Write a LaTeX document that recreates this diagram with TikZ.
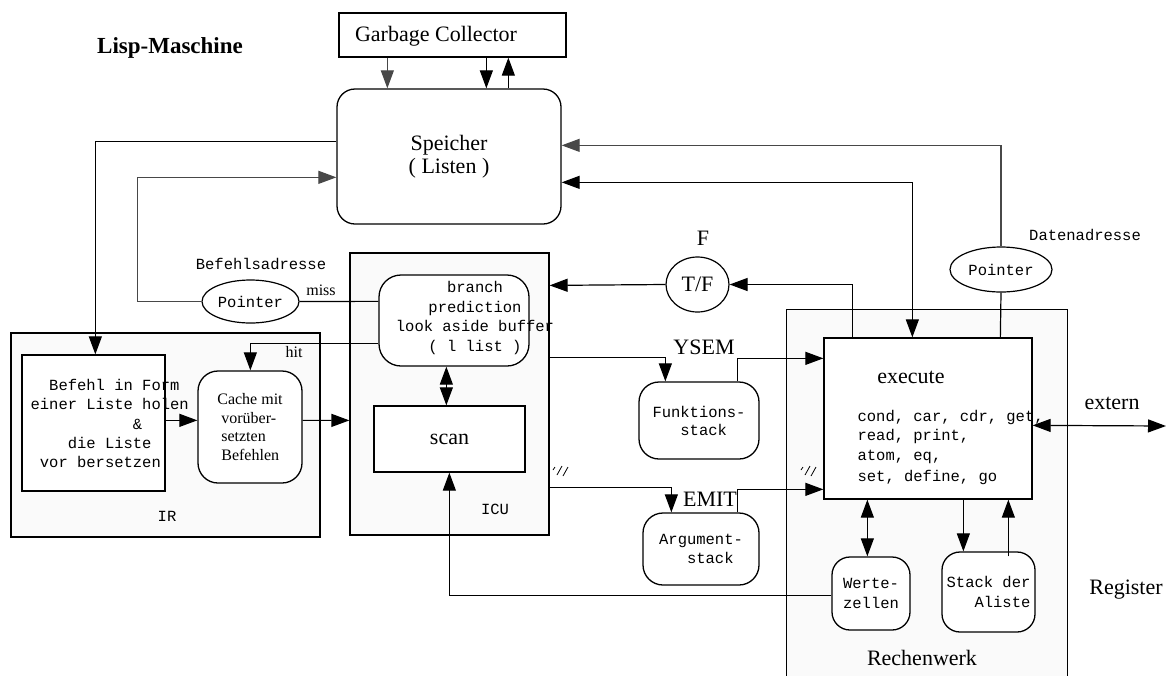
\documentclass[tikz,border=0pt]{standalone}
\usepackage{fontspec}
\setmainfont{Liberation Serif}
\setmonofont{Liberation Mono}
\usetikzlibrary{arrows.meta,shapes.geometric}

\definecolor{gcol}{RGB}{72,72,72}
\definecolor{unitfill}{RGB}{250,250,250}

\begin{document}
\begin{tikzpicture}[x=1pt,y=-1pt,
  line width=1.2pt,
  box/.style={draw, fill=white, inner sep=0pt, line width=1.3pt},
  rbox/.style={box, rounded corners=20pt},
  unit/.style={draw, fill=unitfill, inner sep=0pt, line width=1.2pt},
  pointer/.style={ellipse, draw, fill=white, inner sep=0pt, line width=1.2pt},
  mono/.style={font=\fontsize{15.5}{19.5}\selectfont\ttfamily},
  big/.style={font=\fontsize{22}{23}\selectfont},
  small/.style={font=\fontsize{16}{18.7}\selectfont},
  txt/.style={inner sep=0pt},
  arr/.style={-{Triangle[length=18pt,width=13pt]}},
  darr/.style={{Triangle[length=18pt,width=13pt]}-{Triangle[length=18pt,width=13pt]}},
  gline/.style={draw=gcol}]

\useasboundingbox[fill=white] (0,0) rectangle (1175,675);

% ---- title and garbage collector ----
\node[txt, font=\fontsize{23}{24}\selectfont\bfseries] (title) at (170,48) {Lisp-Maschine};
\node[box, minimum width=227pt, minimum height=44pt] (gc) at (452.5,35) {};
\node[txt, big] (gctext) at (436,36) {Garbage Collector};

% ---- main memory ----
\node[rbox, rounded corners=18pt, minimum width=224pt, minimum height=135pt,
      big, align=center] (speicher) at (449,156.5) {Speicher\\( Listen )};

% ---- functional units (light background) ----
\node[unit, minimum width=309pt, minimum height=204pt] (ir) at (165.5,435) {};
\node[unit, minimum width=199pt, minimum height=282pt] (icu) at (449.5,394) {};
\node[fill=unitfill, inner sep=0pt, minimum width=280pt, minimum height=372pt] (rw) at (927,496) {};
\draw[line width=1.2pt] (rw.south west) -- (rw.north west) -- (rw.north east) -- (rw.south east);

% ---- IR contents ----
\node[box, minimum width=143pt, minimum height=136pt] (befehl) at (93.5,423) {};
\node[txt, mono, font=\fontsize{15.5}{19.25}\selectfont\ttfamily, align=left, anchor=west] (befehltext) at (30,423.5)
  {\phantom{xx}Befehl in Form\\einer Liste holen\\\phantom{xxxxxxxxxxx}\&\\\phantom{xxxx}die Liste\\\phantom{x}vor bersetzen};
\node[rbox, minimum width=104pt, minimum height=112pt, small, align=left] (cache) at (250,427)
  {Cache mit\\\hspace*{4pt}vorüber-\\\hspace*{4pt}setzten\\\hspace*{4pt}Befehlen};
\node[txt, mono] (irlabel) at (167,516) {IR};

% ---- ICU contents ----
\node[rbox, rounded corners=22pt, minimum width=150pt, minimum height=91pt] (branch) at (454,320.5) {};
\node[txt, mono, align=center] (brtext) at (475,318)
  {branch\\prediction\\look aside buffer\\( l list )};
\node[box, minimum width=151pt, minimum height=66pt, big] (scan) at (449.5,439) {scan};
\node[txt, mono] (iculabel) at (495,509) {ICU};

% ---- pointers and flag ----
\node[pointer, minimum width=97pt, minimum height=43pt, mono] (p1) at (250.5,301.5) {Pointer};
\node[txt, mono] (befadr) at (261,264) {Befehlsadresse};
\node[txt, small] (miss) at (321,290) {miss};
\node[txt, small] (hit) at (294,352) {hit};
\node[pointer, minimum width=102pt, minimum height=45pt, mono] (p2) at (1001,269.5) {Pointer};
\node[txt, mono] (datadr) at (1085,235) {Datenadresse};
\node[pointer, minimum width=63pt, minimum height=55pt, big] (tf) at (697.5,284.5) {\raisebox{-6pt}{T/F}};
\node[txt, big] (flag) at (703,238) {F};

% ---- stacks ----
\node[rbox, minimum width=120pt, minimum height=77pt, mono, font=\fontsize{15.5}{18}\selectfont\ttfamily, align=left] (fstack) at (699,420.5)
  {Funktions-\\\phantom{xxx}stack};
\node[rbox, minimum width=116pt, minimum height=72pt, mono, align=left] (astack) at (701,549)
  {Argument-\\\phantom{xxx}stack};
\node[txt, big] (ysem) at (704,347) {YSEM};
\node[txt, big] (emit) at (710,499) {EMIT};

% ---- Rechenwerk contents ----
\node[box, minimum width=208pt, minimum height=161pt] (exec) at (928,418.5) {};
\node[txt, big] (exectitle) at (911,377) {execute};
\node[txt, mono, align=left, anchor=west] (ops) at (857,447.5)
  {cond, car, cdr, get,\\read, print,\\atom, eq,\\[2pt]set, define, go};
\node[rbox, rounded corners=18pt, minimum width=78pt, minimum height=73pt, mono, align=left] (werte) at (871,593.5)
  {Werte-\\zellen};
\node[rbox, rounded corners=18pt, minimum width=93pt, minimum height=80pt, mono, align=right] (alist) at (988.5,592)
  {Stack der\\Aliste};
\node[txt, big] (rwlabel) at (922,658) {Rechenwerk};
\node[txt, big] (reglabel) at (1126,590) {Register};
\node[txt, big] (extlabel) at (1112,403) {extern};
\coordinate (ext) at (1166,426);

% ---- garbage collector <-> memory ----
\draw[arr, gline] ([xshift=49pt]gc.south west) -- ([xshift=51pt]speicher.north west);
\draw[arr] ([xshift=148pt]gc.south west) -- ([xshift=150pt]speicher.north west);
\draw[arr] ([xshift=172pt]speicher.north west) -- ([xshift=170pt]gc.south west);

% ---- instruction fetch path ----
\draw[arr] ([yshift=-53pt]speicher.north west) -| ([xshift=74pt]befehl.north west);
\draw[arr, gline] (p1.west) -- ++(-64,0) |- ([yshift=-89pt]speicher.north west);
\draw ([yshift=-27pt]branch.north west) -- (p1.east);
\draw[arr] ([yshift=-69pt]branch.north west) -| ([xshift=53pt]cache.north west);
\draw[arr] ([yshift=-66pt]befehl.north east) -- ([yshift=-50pt]cache.north west);
\draw[arr] ([yshift=-50pt]cache.north east) -- ([yshift=-168pt]icu.north west);
\draw[darr] ([xshift=68pt]branch.south west) -- ([xshift=73pt]scan.north west);

% ---- branch flag ----
\draw[arr] (tf.west) -- ([yshift=-33pt]icu.north east);
\draw[arr] ([xshift=29pt]exec.north west) |- (tf.east);

% ---- data access ----
\draw[darr] ([yshift=-94pt]speicher.north east) -| ([xshift=89pt]exec.north west);
\draw[arr, gline] (p2.north) |- ([yshift=-57pt]speicher.north east);
\draw (p2.south) -- ([xshift=177pt]exec.north west);

% ---- stacks to execute ----
\draw[arr] ([yshift=-105pt]icu.north east) -| ([xshift=27pt]fstack.north west);
\draw[arr] ([xshift=99pt]fstack.north west) |- ([yshift=-21pt]exec.north west);
\draw[arr] ([yshift=-235pt]icu.north east) -| ([xshift=29pt]astack.north west);
\draw[arr] ([xshift=95pt]astack.north west) |- ([yshift=-152pt]exec.north west);

% ---- registers ----
\draw[darr] ([xshift=44pt]exec.south west) -- ([xshift=36pt]werte.north west);
\draw[arr] ([xshift=140pt]exec.south west) -- ([xshift=22pt]alist.north west);
\draw[arr] ([xshift=67pt,yshift=-5pt]alist.north west) -- ([xshift=185pt]exec.south west);
\draw[arr] ([yshift=-39pt]werte.north west) -| ([xshift=76pt]scan.south west);
\draw[darr] ([yshift=-88pt]exec.north east) -- (ext);

% ---- bus hatch marks ----
\draw[line width=0.8pt] (553,470) -- (555,467) (557,475) -- (562,466) (563,476) -- (568,467);
\draw[line width=0.8pt] (801,470) -- (803,467) (805,475) -- (810,466) (811,476) -- (816,467);

\end{tikzpicture}
\end{document}
